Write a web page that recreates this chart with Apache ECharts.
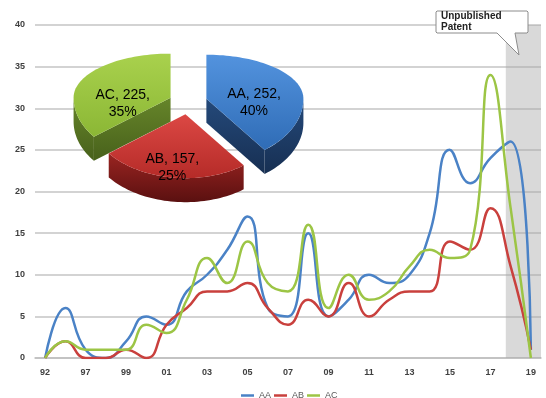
<!DOCTYPE html>
<html>
<head>
<meta charset="utf-8">
<script src="https://cdn.jsdelivr.net/npm/echarts@6/dist/echarts.min.js"></script>
<style>
  html, body { margin: 0; padding: 0; background: #fff; }
  #main { width: 546px; height: 398px; }
</style>
</head>
<body>
<div id="main"></div>
<script>
// line chart data
const years = ['92', '94', '97', '98', '99', '00', '01', '02', '03', '04', '05', '06', '07',
  '08', '09', '10', '11', '12', '13', '14', '15', '16', '17', '18', '19'];
const seriesAA = [0, 6, 1, 0, 2, 5, 4, 8, 10, 13, 17, 6, 5, 15, 5, 7, 10, 9, 10, 15, 25, 21, 24, 26, 1];
const seriesAB = [0, 2, 0, 0, 1, 0, 4, 6, 8, 8, 9, 6, 4, 7, 5, 9, 5, 7, 8, 8, 14, 13, 18, 11, 1];
const seriesAC = [0, 2, 1, 1, 1, 4, 3, 7, 12, 9, 14, 9, 8, 16, 6, 10, 7, 8, 11, 13, 12, 13, 34, 18, 0];

// inset pie data
const pieNames = ['AA', 'AB', 'AC'];
const pieValues = [252, 157, 225];

// shaded "unpublished" span (value axis units, category i sits at i)
const unpublishedFrom = 22.76;
const unpublishedTo = 24.5;

const FONT = 'Liberation Sans, Arial, sans-serif';
const lineColors = ['#4a82c6', '#c9403d', '#9cc545'];

// pseudo-3D pie geometry
const PIE = { cx: 188, cy: 101.5, rx: 97, ryTop: 44, ryBot: 64, h: 24, explode: 0.2 };
const labelShift = [[-3, 0], [-6, 7], [0, 5]];
const pieTop = [
  ['#5393de', '#2f6cb6'],
  ['#dc4844', '#b52b28'],
  ['#a9d14d', '#8bb735']
];
const pieSide = [
  ['#24497a', '#172f52'],
  ['#9a2421', '#5a1010'],
  ['#66852a', '#48611b']
];

const pieTotal = pieValues.reduce((a, b) => a + b, 0);

function ry(t) { return Math.cos(t) >= 0 ? PIE.ryTop : PIE.ryBot; }
function rim(ax, ay, t, dz) {
  return [ax + PIE.rx * Math.sin(t), ay - ry(t) * Math.cos(t) + (dz || 0)];
}
function arc(ax, ay, a, b, dz) {
  const pts = [];
  const n = Math.max(2, Math.ceil(Math.abs(b - a) / (Math.PI / 90)));
  for (let k = 0; k <= n; k++) pts.push(rim(ax, ay, a + (b - a) * k / n, dz));
  return pts;
}
function grad(c) {
  return new echarts.graphic.LinearGradient(0, 0, 0, 1, [
    { offset: 0, color: c[0] }, { offset: 1, color: c[1] }
  ]);
}

function renderPie(params, api) {
  const i = params.dataIndex;
  const v = api.value(0);
  let before = 0;
  for (let k = 0; k < i; k++) before += pieValues[k];
  const start = before / pieTotal * Math.PI * 2;
  const end = start + v / pieTotal * Math.PI * 2;
  const mid = (start + end) / 2;
  const ax = PIE.cx + PIE.explode * PIE.rx * Math.sin(mid);
  const ay = PIE.cy - PIE.explode * ry(mid) * Math.cos(mid);
  const h = PIE.h;
  const z2 = i === 1 ? 10 : 0;
  const children = [];

  // outer wall (front half only)
  const a = Math.max(start, Math.PI / 2), b = Math.min(end, Math.PI * 1.5);
  if (b > a) {
    const pts = arc(ax, ay, a, b, 0).concat(arc(ax, ay, b, a, h));
    children.push({ type: 'polygon', z2: z2, shape: { points: pts }, style: { fill: grad(pieSide[i]) } });
  }
  // radial cut faces
  if (Math.sin(end) > 0.01) {
    const p = rim(ax, ay, end, 0);
    children.push({ type: 'polygon', z2: z2, shape: { points: [[ax, ay], p, [p[0], p[1] + h], [ax, ay + h]] },
      style: { fill: grad(pieSide[i]) } });
  }
  if (Math.sin(start) < -0.01) {
    const p = rim(ax, ay, start, 0);
    children.push({ type: 'polygon', z2: z2, shape: { points: [[ax, ay], p, [p[0], p[1] + h], [ax, ay + h]] },
      style: { fill: grad(pieSide[i]) } });
  }
  // top face
  children.push({ type: 'polygon', z2: z2 + 1, shape: { points: [[ax, ay]].concat(arc(ax, ay, start, end, 0)) },
    style: { fill: grad(pieTop[i]) } });

  // label
  const pct = Math.round(v / pieTotal * 100);
  const f = 0.55;
  const lx = ax + f * PIE.rx * Math.sin(mid) + labelShift[i][0];
  const ly = ay - f * ry(mid) * Math.cos(mid) + 12 + labelShift[i][1];
  children.push({
    type: 'text', z2: 30, x: lx, y: ly,
    style: {
      text: pieNames[i] + ', ' + v + ',\n' + pct + '%',
      font: '14px ' + FONT, fill: '#000',
      textAlign: 'center', textVerticalAlign: 'middle', lineHeight: 17
    }
  });
  return { type: 'group', children: children };
}

const chart = echarts.init(document.getElementById('main'));

chart.setOption({
  animation: false,
  textStyle: { fontFamily: FONT },
  grid: { left: 35, right: 5, top: 25, bottom: 40 },
  legend: {
    data: ['AA', 'AB', 'AC'],
    left: 236, top: 386,
    icon: 'rect', itemWidth: 13, itemHeight: 2.5, itemGap: 3,
    textStyle: { fontSize: 9, color: '#595959', fontFamily: FONT }
  },
  xAxis: [
    {
      type: 'category',
      data: years,
      boundaryGap: true,
      axisLine: { lineStyle: { color: '#bfbfbf', width: 1.5 } },
      axisTick: { show: false },
      axisLabel: { interval: 1, color: '#404040', fontSize: 9, fontWeight: 'bold', margin: 10 }
    },
    { type: 'value', min: -0.5, max: 24.5, show: false }
  ],
  yAxis: {
    type: 'value', min: 0, max: 40, interval: 5,
    axisLine: { show: false },
    axisTick: { show: false },
    axisLabel: { color: '#404040', fontSize: 9, fontWeight: 'bold', margin: 10 },
    splitLine: { lineStyle: { color: '#c4c4c4', width: 1.5 } }
  },
  series: [
    {
      name: 'shade', type: 'line', xAxisIndex: 1, data: [[24, 0]],
      symbol: 'none', silent: true, z: 1,
      lineStyle: { opacity: 0 },
      markArea: {
        silent: true,
        itemStyle: { color: 'rgba(170,170,170,0.45)' },
        data: [[{ xAxis: unpublishedFrom, yAxis: 0 }, { xAxis: unpublishedTo, yAxis: 40 }]]
      }
    },
    { name: 'AA', type: 'line', data: seriesAA, smooth: 0.5, symbol: 'none', z: 3,
      lineStyle: { color: lineColors[0], width: 2.5 }, itemStyle: { color: lineColors[0] } },
    { name: 'AB', type: 'line', data: seriesAB, smooth: 0.5, symbol: 'none', z: 3,
      lineStyle: { color: lineColors[1], width: 2.5 }, itemStyle: { color: lineColors[1] } },
    { name: 'AC', type: 'line', data: seriesAC, smooth: 0.5, symbol: 'none', z: 3,
      lineStyle: { color: lineColors[2], width: 2.5 }, itemStyle: { color: lineColors[2] } },
    {
      name: 'share', type: 'custom', coordinateSystem: 'none', z: 10, silent: true,
      renderItem: renderPie,
      data: pieValues.map((v, i) => ({ name: pieNames[i], value: [v] }))
    }
  ],
  graphic: [
    {
      type: 'polygon', z: 20,
      shape: { points: [[437, 11], [527, 11], [528, 12], [528, 32], [527, 33], [515, 33], [519, 55],
        [497, 33], [437, 33], [436, 32], [436, 12]] },
      style: { fill: '#fff', stroke: '#8c8c8c', lineWidth: 1 }
    },
    {
      type: 'text', z: 21, left: 441, top: 11,
      style: { text: 'Unpublished\nPatent', font: 'bold 10px ' + FONT, fill: '#222', lineHeight: 10.5 }
    }
  ]
});
</script>
</body>
</html>
